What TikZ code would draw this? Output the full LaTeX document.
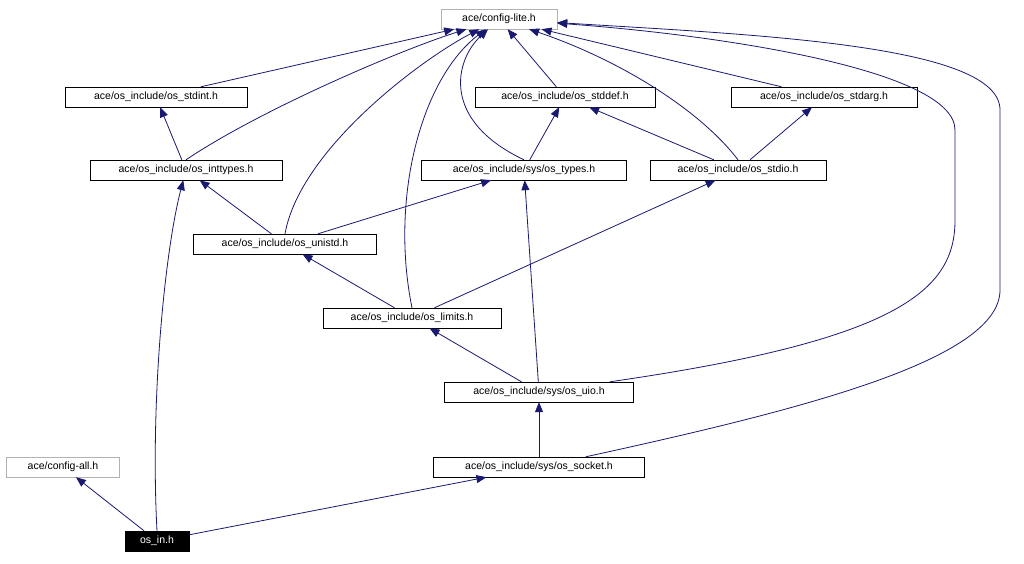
\documentclass[tikz,border=0pt]{standalone}
\usepackage{fontspec}
\setmainfont{Liberation Sans}
\usetikzlibrary{positioning,arrows.meta}
\definecolor{edgeblue}{HTML}{191970}
\tikzset{
  file/.style={draw=black, fill=white, minimum height=20pt, inner sep=0pt, font=\fontsize{10.5}{12}\selectfont},
  extfile/.style={file, draw=gray!60},
  root/.style={file, fill=black, text=white},
  incl/.style={draw=edgeblue, line width=0.8pt, -{Triangle[length=10pt,width=8pt]}}
}
\begin{document}
\begin{tikzpicture}[x=1pt, y=-1pt]
    \useasboundingbox (0,0) rectangle (1024,564);
    \node[extfile, minimum width=116pt] (config_lite) at (499,19) {ace/config-lite.h};
    \node[file, minimum width=182pt] (os_stdint) at (156,97) {ace/os\_include/os\_stdint.h};
    \node[file, minimum width=180pt] (os_stddef) at (565,97) {ace/os\_include/os\_stddef.h};
    \node[file, minimum width=186pt] (os_stdarg) at (824,97) {ace/os\_include/os\_stdarg.h};
    \node[file, minimum width=192pt] (os_inttypes) at (186,170) {ace/os\_include/os\_inttypes.h};
    \node[file, minimum width=205pt] (os_types) at (524,170) {ace/os\_include/sys/os\_types.h};
    \node[file, minimum width=176pt] (os_stdio) at (738,170) {ace/os\_include/os\_stdio.h};
    \node[file, minimum width=183pt] (os_unistd) at (285,244) {ace/os\_include/os\_unistd.h};
    \node[file, minimum width=178pt] (os_limits) at (412,318) {ace/os\_include/os\_limits.h};
    \node[file, minimum width=189pt] (os_uio) at (539,392) {ace/os\_include/sys/os\_uio.h};
    \node[file, minimum width=211pt] (os_socket) at (539,467) {ace/os\_include/sys/os\_socket.h};
    \node[extfile, minimum width=113pt] (config_all) at (63,467) {ace/config-all.h};
    \node[root, minimum width=64pt] (os_in) at (157,541) {os\_in.h};
    %
    \draw[incl] (os_stdint) -- (config_lite);
    \draw[incl] (os_stddef) -- (config_lite);
    \draw[incl] (os_stdarg) -- (config_lite);
    \draw[incl] (os_inttypes) -- (os_stdint);
    \draw[incl] (os_inttypes.north) .. controls (260,110) and (400,50) .. (config_lite);
    \draw[incl] (os_types) -- (os_stddef);
    \draw[incl] (os_types.north) .. controls (440,120) and (455,60) .. (config_lite);
    \draw[incl] (os_stdio) -- (os_stddef);
    \draw[incl] (os_stdio) -- (os_stdarg);
    \draw[incl] (os_stdio.north) .. controls (700,110) and (620,60) .. (config_lite);
    \draw[incl] (os_unistd) -- (os_inttypes);
    \draw[incl] (os_unistd) -- (os_types);
    \draw[incl] (os_unistd.north) .. controls (300,150) and (420,60) .. (config_lite);
    \draw[incl] (os_limits) -- (os_unistd);
    \draw[incl] (os_limits) -- (os_stdio);
    \draw[incl] (os_limits.north) .. controls (390,200) and (420,80) .. (config_lite);
    \draw[incl] (os_uio) -- (os_limits);
    \draw[incl] (os_uio) -- (os_types);
    \draw[incl] (os_uio) .. controls (900,340) and (955,290) .. (955,220)
        -- (955,130) .. controls (955,70) and (720,35) .. (config_lite);
    \draw[incl] (os_socket) .. controls (800,410) and (1000,360) .. (1000,290)
        -- (1000,110) .. controls (1000,45) and (760,35) .. (config_lite);
    \draw[incl] (os_socket) -- (os_uio);
    \draw[incl] (os_in) -- (config_all);
    \draw[incl] (os_in.north) .. controls (150,400) and (165,250) .. (os_inttypes);
    \draw[incl] (os_in) -- (os_socket);
\end{tikzpicture}
\end{document}
